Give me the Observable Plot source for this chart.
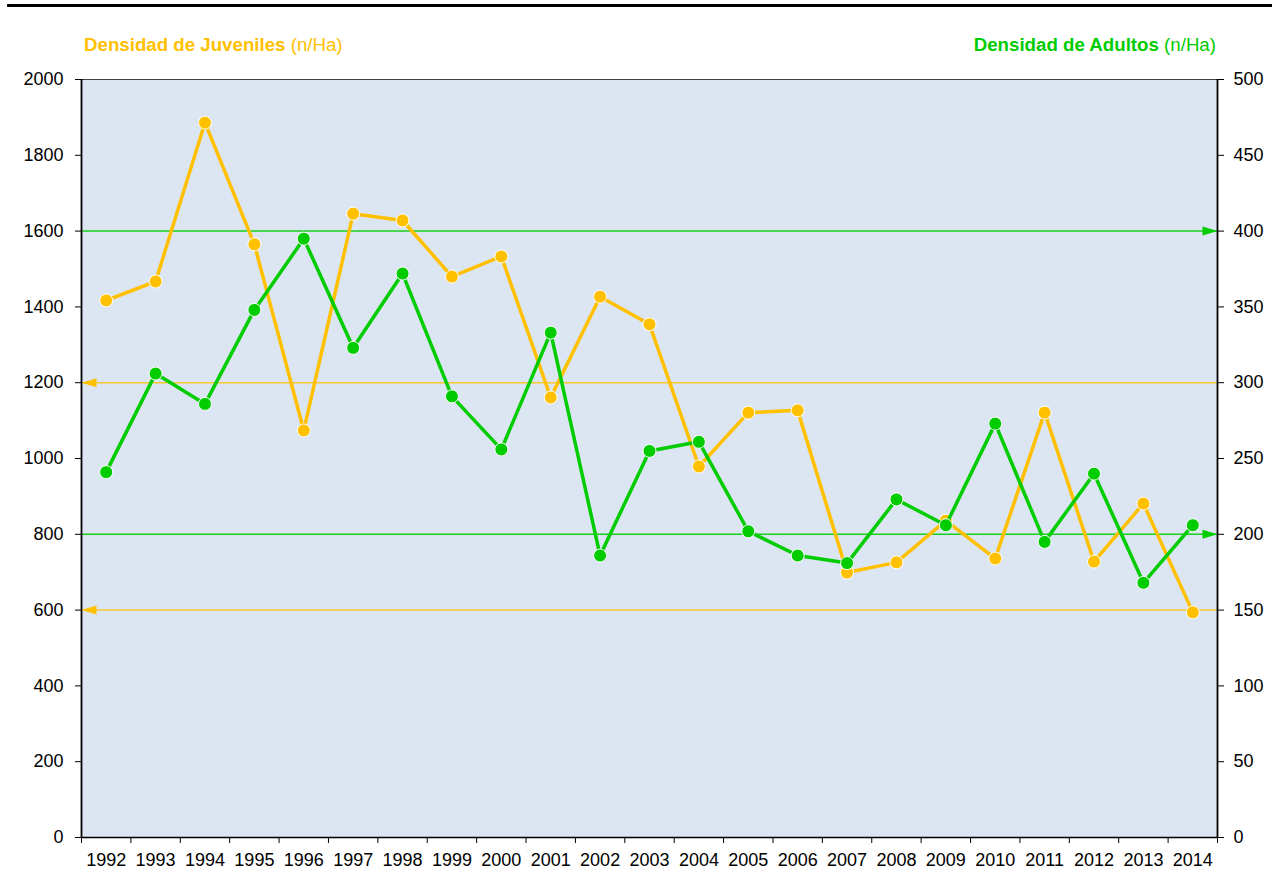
<!DOCTYPE html>
<html>
<head>
<meta charset="utf-8">
<script src="https://cdn.jsdelivr.net/npm/d3@7"></script>
<script src="https://cdn.jsdelivr.net/npm/@observablehq/plot@0.6"></script>
<style>
  html, body { margin: 0; padding: 0; background: white; }
  #wrap { position: relative; width: 1277px; height: 889px; font-family: "Liberation Sans", Arial, sans-serif; }
  #topline { position: absolute; left: 7px; top: 4px; width: 1265px; height: 3px; background: #000; }
  .ttl { position: absolute; top: 36px; font-size: 18.7px; line-height: 18px; white-space: nowrap; }
  .ttl b { font-weight: bold; }
  #tl { left: 84px; color: #FFC000; }
  #tr { right: 61px; color: #00CC00; }
  #chart { position: absolute; left: 0; top: 0; }
</style>
</head>
<body>
<div id="wrap">
  <div id="chart"></div>
  <div id="topline"></div>
  <div class="ttl" id="tl"><b>Densidad de Juveniles</b> (n/Ha)</div>
  <div class="ttl" id="tr"><b>Densidad de Adultos</b> (n/Ha)</div>
</div>
<script>
const years = [1992,1993,1994,1995,1996,1997,1998,1999,2000,2001,2002,2003,2004,2005,2006,2007,2008,2009,2010,2011,2012,2013,2014];
const juveniles = [1417,1467,1886,1565,1074,1646,1628,1480,1533,1161,1427,1354,979,1121,1127,699,726,836,736,1121,728,881,594];
const adultos = [241,306,286,348,395,323,372,291,256,333,186,255,261,202,186,181,223,206,273,195,240,168,206];
const leftTicks = [0,200,400,600,800,1000,1200,1400,1600,1800,2000];
const rightTicks = [0,50,100,150,200,250,300,350,400,450,500];
const juvRefs = [1200, 600];
const adultRefs = [400, 200];

const ORANGE = "#FFC000";
const GREEN = "#00CC00";
const ratio = 2000 / 500;

const juvData = years.map((y, i) => ({year: y, v: juveniles[i]}));
const adData = years.map((y, i) => ({year: y, v: adultos[i] * ratio}));
const bounds = [years[0] - 0.5, ...years.map(y => y + 0.5)];

const arrowRight = { draw(ctx) { ctx.moveTo(0, 0); ctx.lineTo(-15, -4.5); ctx.lineTo(-15, 4.5); ctx.closePath(); } };
const arrowLeft = { draw(ctx) { ctx.moveTo(0, 0); ctx.lineTo(15, -4.5); ctx.lineTo(15, 4.5); ctx.closePath(); } };

const chart = Plot.plot({
  width: 1277,
  height: 889,
  marginLeft: 81,
  marginRight: 60,
  marginTop: 79,
  marginBottom: 52,
  style: { fontFamily: "Liberation Sans, Arial, sans-serif", fontSize: "18px", color: "#000", background: "transparent" },
  x: { type: "linear", domain: [bounds[0], bounds[bounds.length - 1]], axis: null },
  y: { domain: [0, 2000], axis: null },
  marks: [
    Plot.frame({ fill: "#DCE6F2", stroke: "#404040", strokeWidth: 1 }),
    Plot.ruleY(juvRefs, { stroke: ORANGE, strokeWidth: 1.5, strokeOpacity: 0.8 }),
    Plot.ruleY(adultRefs.map(d => d * ratio), { stroke: GREEN, strokeWidth: 1.5, strokeOpacity: 0.9 }),
    Plot.dot(juvRefs, { y: d => d, frameAnchor: "left", symbol: arrowLeft, fill: ORANGE, stroke: "none" }),
    Plot.dot(adultRefs.map(d => d * ratio), { y: d => d, frameAnchor: "right", symbol: arrowRight, fill: GREEN, stroke: "none" }),
    Plot.line(juvData, { x: "year", y: "v", stroke: ORANGE, strokeWidth: 3.5 }),
    Plot.dot(juvData, { x: "year", y: "v", r: 6.5, fill: ORANGE, stroke: "white", strokeWidth: 1 }),
    Plot.line(adData, { x: "year", y: "v", stroke: GREEN, strokeWidth: 3.5 }),
    Plot.dot(adData, { x: "year", y: "v", r: 6.5, fill: GREEN, stroke: "white", strokeWidth: 1 }),
    Plot.ruleX([bounds[0], bounds[bounds.length - 1]], { stroke: "#000", strokeWidth: 1.8 }),
    Plot.ruleY([0], { stroke: "#000", strokeWidth: 1.5 }),
    Plot.axisY({ anchor: "left", ticks: leftTicks, tickSize: 6, tickPadding: 12, tickFormat: d => String(d), label: null, stroke: "#000" }),
    Plot.axisY({ anchor: "right", ticks: rightTicks.map(d => d * ratio), tickSize: 6, tickPadding: 10, tickFormat: d => String(d / ratio), label: null }),
    Plot.axisX({ anchor: "bottom", ticks: bounds, tickSize: 6, tickFormat: () => "", label: null }),
    Plot.axisX({ anchor: "bottom", ticks: years, tickSize: 0, tickPadding: 16, tickFormat: d => String(d), label: null })
  ]
});
document.getElementById("chart").appendChild(chart);
</script>
</body>
</html>
